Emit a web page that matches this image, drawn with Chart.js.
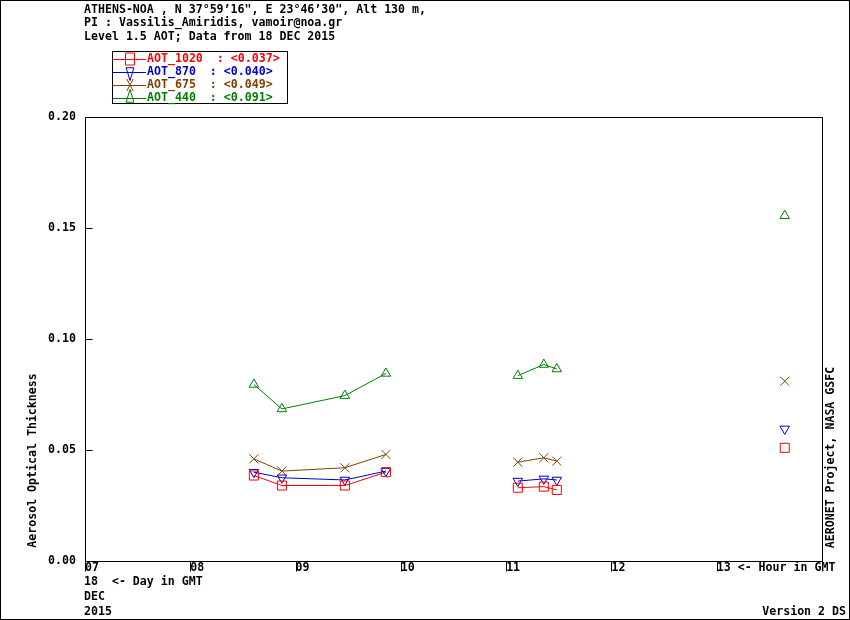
<!DOCTYPE html>
<html>
<head>
<meta charset="utf-8">
<script src="https://cdn.jsdelivr.net/npm/chart.js@4/dist/chart.umd.min.js"></script>
<style>
html,body{margin:0;padding:0;background:#fff;}
#wrap{width:850px;height:620px;}
</style>
</head>
<body>
<div id="wrap"><canvas id="c" width="850" height="620"></canvas></div>
<script>
// ---- data ----
const hours   = [8.604, 8.870, 9.468, 9.858, 11.111, 11.358, 11.481, 13.646];
const groups  = [1, 1, 1, 1, 2, 2, 2, 3];
const aot1020 = [0.0385, 0.0340, 0.0340, 0.0400, 0.0330, 0.0335, 0.0320, 0.0510];
const aot870  = [0.0400, 0.0375, 0.0365, 0.0405, 0.0360, 0.0370, 0.0365, 0.0595];
const aot675  = [0.0460, 0.0405, 0.0420, 0.0480, 0.0445, 0.0465, 0.0450, 0.0810];
const aot440  = [0.0795, 0.0685, 0.0745, 0.0845, 0.0835, 0.0885, 0.0865, 0.1555];
const seriesNames = ['AOT_1020', 'AOT_870', 'AOT_675', 'AOT_440'];
const legendTexts = ['AOT_1020  : <0.037>', 'AOT_870  : <0.040>', 'AOT_675  : <0.049>', 'AOT_440  : <0.091>'];
const xTickLabels = ['07', '08', '09', '10', '11', '12', '13 <- Hour in GMT', ''];
const yTickLabels = ['0.00', '0.05', '0.10', '0.15', '0.20'];
const headerLines = [
  'ATHENS-NOA , N 37\u00b059\u201916", E 23\u00b046\u201930", Alt 130 m,',
  'PI : Vassilis_Amiridis, vamoir@noa.gr',
  'Level 1.5 AOT; Data from 18 DEC 2015'
];
const dateLines = ['18  <- Day in GMT', 'DEC', '2015'];
const yTitle = 'Aerosol Optical Thickness';
const rightTitle = 'AERONET Project, NASA GSFC';
const versionText = 'Version 2 DS';

// ---- styles ----
const FAMILY = '"DejaVu Sans Mono", "Liberation Mono", monospace';
const FONT = 'bold 11.6px ' + FAMILY;
const colors = ['#ff0000', '#0000c8', '#804000', '#008000'];
const styles = [
  {pointStyle: 'rect', radius: 6.4, rotation: 0},
  {pointStyle: 'triangle', radius: 5.5, rotation: 180},
  {pointStyle: 'crossRot', radius: 6.4, rotation: 0},
  {pointStyle: 'triangle', radius: 5.5, rotation: 0}
];
const allSeries = [aot1020, aot870, aot675, aot440];

const datasets = allSeries.map((vals, i) => ({
  label: seriesNames[i],
  data: hours.map((h, k) => ({x: h, y: vals[k]})),
  showLine: true,
  borderColor: colors[i],
  backgroundColor: 'transparent',
  borderWidth: 1,
  pointStyle: styles[i].pointStyle,
  pointRadius: styles[i].radius,
  pointRotation: styles[i].rotation,
  pointBorderColor: colors[i],
  pointBackgroundColor: 'transparent',
  pointBorderWidth: 1,
  pointHoverRadius: styles[i].radius,
  tension: 0,
  segment: {
    borderColor: ctx => groups[ctx.p0DataIndex] === groups[ctx.p1DataIndex] ? colors[i] : 'rgba(0,0,0,0)'
  }
}));

const decor = {
  id: 'decor',
  afterDraw(chart) {
    const ctx = chart.ctx;
    const a = chart.chartArea;
    const xs = chart.scales.x, ys = chart.scales.y;
    ctx.save();
    ctx.strokeStyle = '#000';
    ctx.lineWidth = 1;
    // outer frame
    ctx.strokeRect(0.5, 0.5, chart.width - 1, chart.height - 1);
    // plot frame
    const L = Math.round(a.left) + 0.5, R = Math.round(a.right) + 0.5;
    const T = Math.round(a.top) + 0.5, B = Math.round(a.bottom) + 0.5;
    ctx.strokeRect(L, T, R - L, B - T);
    // y ticks inside
    ctx.beginPath();
    ys.ticks.forEach(t => {
      const y = Math.round(ys.getPixelForValue(t.value)) + 0.5;
      ctx.moveTo(L, y); ctx.lineTo(L + 7, y);
    });
    // x ticks below
    xs.ticks.forEach(t => {
      const x = Math.round(xs.getPixelForValue(t.value)) + 0.5;
      ctx.moveTo(x, B); ctx.lineTo(x, B + 10);
    });
    ctx.stroke();

    ctx.font = FONT;
    ctx.fillStyle = '#000';
    ctx.textBaseline = 'middle';
    ctx.textAlign = 'left';
    headerLines.forEach((s, i) => ctx.fillText(s, 84, 9.5 + i * 13.5));
    dateLines.forEach((s, i) => ctx.fillText(s, 84, 581.5 + i * 15));
    ctx.textAlign = 'right';
    ctx.fillText(versionText, 846, 611.5);

    // rotated titles
    ctx.save();
    ctx.translate(33, 460.5);
    ctx.rotate(-Math.PI / 2);
    ctx.textAlign = 'center';
    ctx.fillText(yTitle, 0, 0);
    ctx.restore();
    ctx.save();
    ctx.translate(831, 457.5);
    ctx.rotate(-Math.PI / 2);
    ctx.textAlign = 'center';
    ctx.fillText(rightTitle, 0, 0);
    ctx.restore();

    // legend
    ctx.strokeStyle = '#000';
    ctx.strokeRect(112.5, 51.5, 175, 52);
    const H = Chart.helpers || {};
    legendTexts.forEach((s, i) => {
      const y = 59 + i * 13;
      const yy = Math.round(y) + 0.5;
      ctx.strokeStyle = colors[i];
      ctx.lineWidth = 1;
      ctx.beginPath();
      ctx.moveTo(113, yy); ctx.lineTo(146, yy);
      ctx.stroke();
      ctx.fillStyle = 'rgba(0,0,0,0)';
      ctx.strokeStyle = colors[i];
      const opts = {pointStyle: styles[i].pointStyle, radius: 8.5, rotation: styles[i].rotation, borderWidth: 1};
      if (H.drawPointLegend) {
        H.drawPointLegend(ctx, opts, 130, y, 9);
      } else if (H.drawPoint) {
        H.drawPoint(ctx, opts, 130, y);
      }
      ctx.fillStyle = colors[i];
      ctx.textAlign = 'left';
      ctx.fillText(s, 147, y);
    });
    ctx.restore();
  }
};

new Chart(document.getElementById('c'), {
  type: 'scatter',
  data: {datasets},
  plugins: [decor],
  options: {
    responsive: false,
    animation: false,
    devicePixelRatio: 1,
    layout: {padding: {top: 117, right: 28, left: 0, bottom: 0}},
    plugins: {legend: {display: false}, tooltip: {enabled: false}},
    elements: {point: {hitRadius: 0}},
    scales: {
      x: {
        type: 'linear', min: 7, max: 14,
        afterFit(s) { s.height = 59; },
        border: {display: false},
        grid: {display: false, drawTicks: false},
        ticks: {
          stepSize: 1, autoSkip: false, maxRotation: 0, align: 'start', padding: 0,
          color: '#000',
          font: {family: FAMILY, size: 11.6, weight: 'bold'},
          callback: (v, idx) => xTickLabels[idx]
        }
      },
      y: {
        type: 'linear', min: 0, max: 0.2,
        afterFit(s) { s.width = 85; },
        border: {display: false},
        grid: {display: false, drawTicks: false},
        ticks: {
          stepSize: 0.05, padding: 9, color: '#000',
          font: {family: FAMILY, size: 11.6, weight: 'bold'},
          callback: (v, idx) => yTickLabels[idx]
        }
      }
    }
  }
});
</script>
</body>
</html>
